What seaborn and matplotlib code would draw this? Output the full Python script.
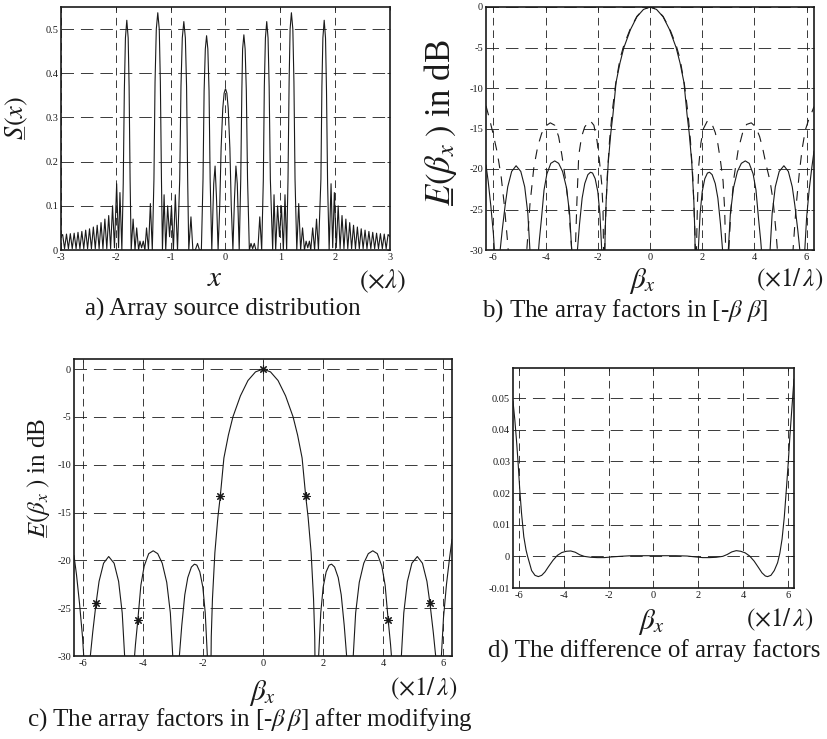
import matplotlib
matplotlib.use("Agg")
import matplotlib.pyplot as plt
import seaborn as sns

# ==========================================
# 1. DATA
# ==========================================
# a) array source distribution S(x), x in units of lambda
# one line per feature: tail ripples, main peaks, small lobes between them
src_x = [
    -3.000, -2.970, -2.935, -2.900, -2.865, -2.830, -2.795, -2.760, -2.725, -2.690,
    -2.655, -2.620, -2.585, -2.550, -2.515, -2.480, -2.445, -2.410, -2.375, -2.340,
    -2.305, -2.270, -2.235, -2.200, -2.165, -2.130, -2.095, -2.060, -2.025, -1.985,
    -1.950, -1.925, -1.890,
    -1.865, -1.845, -1.825, -1.800, -1.775, -1.758, -1.740,
    -1.720, -1.685, -1.650, -1.620, -1.585, -1.560, -1.530, -1.500, -1.470, -1.440, -1.405, -1.370, -1.335,
    -1.305, -1.285, -1.262, -1.235, -1.208, -1.188, -1.168,
    -1.150, -1.120, -1.090, -1.055, -1.020, -0.985, -0.950, -0.915, -0.875,
    -0.835, -0.812, -0.788, -0.760, -0.732, -0.710, -0.690,
    -0.670, -0.630, -0.595, -0.550, -0.510, -0.475, -0.440,
    -0.410, -0.390, -0.368, -0.345, -0.322, -0.300, -0.280,
    -0.250, -0.215, -0.190, -0.165, -0.135,
    -0.105, -0.080, -0.050, -0.025, 0.000, 0.025, 0.050, 0.080, 0.105,
    0.135, 0.165, 0.190, 0.215, 0.250,
    0.278, 0.298, 0.312, 0.335, 0.358, 0.380, 0.402,
    0.435, 0.465, 0.495, 0.525, 0.555, 0.590, 0.625, 0.660,
    0.690, 0.708, 0.728, 0.752, 0.776, 0.796, 0.818,
    0.860, 0.885, 0.915, 0.950, 0.985, 1.020, 1.055, 1.085, 1.115,
    1.140, 1.160, 1.178, 1.202, 1.228, 1.248, 1.268,
    1.300, 1.335, 1.370, 1.405, 1.440, 1.470, 1.500, 1.530, 1.555, 1.590, 1.625, 1.660, 1.695,
    1.740, 1.758, 1.776, 1.800, 1.824, 1.842, 1.862,
    1.890, 1.925, 1.955, 1.985, 2.020, 2.055,
    2.090, 2.125, 2.160, 2.195, 2.230, 2.265, 2.300, 2.335, 2.370, 2.405,
    2.440, 2.475, 2.510, 2.545, 2.580, 2.615, 2.650, 2.685, 2.720, 2.755,
    2.790, 2.825, 2.860, 2.895, 2.930, 2.965, 3.000,
]
src_s = [
    0.030, 0.035, 0.003, 0.036, 0.003, 0.037, 0.003, 0.038, 0.003, 0.040,
    0.003, 0.042, 0.003, 0.045, 0.003, 0.048, 0.003, 0.052, 0.003, 0.056,
    0.003, 0.062, 0.003, 0.070, 0.003, 0.078, 0.003, 0.100, 0.005, 0.150,
    0.005, 0.130, 0.000,
    0.150, 0.360, 0.480, 0.520, 0.480, 0.370, 0.160,
    0.000, 0.070, 0.000, 0.050, 0.000, 0.020, 0.005, 0.020, 0.000, 0.050, 0.000, 0.105, 0.000,
    0.160, 0.380, 0.500, 0.537, 0.500, 0.380, 0.160,
    0.000, 0.125, 0.000, 0.100, 0.030, 0.100, 0.000, 0.125, 0.000,
    0.160, 0.370, 0.480, 0.517, 0.480, 0.370, 0.160,
    0.000, 0.075, 0.000, 0.000, 0.015, 0.000, 0.000,
    0.160, 0.360, 0.455, 0.485, 0.455, 0.360, 0.160,
    0.000, 0.150, 0.190, 0.120, 0.000,
    0.100, 0.230, 0.320, 0.355, 0.365, 0.355, 0.320, 0.230, 0.100,
    0.000, 0.120, 0.190, 0.150, 0.000,
    0.160, 0.360, 0.455, 0.487, 0.455, 0.360, 0.160,
    0.000, 0.015, 0.003, 0.015, 0.000, 0.000, 0.075, 0.000,
    0.160, 0.370, 0.480, 0.517, 0.480, 0.370, 0.160,
    0.000, 0.125, 0.000, 0.100, 0.030, 0.100, 0.000, 0.125, 0.000,
    0.160, 0.380, 0.500, 0.537, 0.500, 0.380, 0.160,
    0.000, 0.105, 0.000, 0.050, 0.000, 0.020, 0.005, 0.020, 0.000, 0.050, 0.000, 0.070, 0.000,
    0.160, 0.370, 0.480, 0.520, 0.480, 0.360, 0.150,
    0.000, 0.150, 0.005, 0.130, 0.005, 0.100,
    0.003, 0.078, 0.003, 0.070, 0.003, 0.062, 0.003, 0.056, 0.003, 0.052,
    0.003, 0.048, 0.003, 0.045, 0.003, 0.042, 0.003, 0.040, 0.003, 0.038,
    0.003, 0.037, 0.003, 0.036, 0.003, 0.035, 0.030,
]

# modified array factor in dB (solid line in b, line in c)
mod_bx = [
    -6.283, -6.200, -6.100, -6.000, -5.960, -5.900, -5.800, -5.740, -5.660, -5.550,
    -5.450, -5.300, -5.130, -4.950, -4.800, -4.680, -4.600, -4.550, -4.360, -4.320,
    -4.240, -4.160, -4.060, -3.950, -3.800, -3.650, -3.500, -3.350, -3.200, -3.080,
    -3.000, -2.950, -2.840, -2.780, -2.700, -2.600, -2.500, -2.380, -2.280, -2.200,
    -2.100, -2.000, -1.920, -1.850, -1.800, -1.760, -1.720, -1.680, -1.600, -1.500,
    -1.420, -1.300, -1.150, -1.000, -0.750, -0.500, -0.250, 0.000,
    0.250, 0.500, 0.750, 1.000, 1.150, 1.300, 1.420, 1.500, 1.600, 1.680,
    1.720, 1.760, 1.800, 1.850, 1.920, 2.000, 2.100, 2.200, 2.280, 2.380,
    2.500, 2.600, 2.700, 2.780, 2.840, 2.950, 3.000, 3.080, 3.200, 3.350,
    3.500, 3.650, 3.800, 3.950, 4.060, 4.160, 4.240, 4.320, 4.360, 4.550,
    4.600, 4.680, 4.800, 4.950, 5.130, 5.300, 5.450, 5.550, 5.660, 5.740,
    5.800, 5.880, 5.930, 6.000, 6.100, 6.200, 6.283,
]
mod_db = [
    -19.5, -21.5, -24.5, -28.0, -30.0, -40.0, -40.0, -30.0, -27.5, -24.5,
    -22.2, -20.3, -19.6, -20.3, -22.2, -25.5, -30.0, -40.0, -40.0, -32.0,
    -28.8, -26.2, -22.6, -20.6, -19.3, -19.0, -19.3, -20.3, -22.3, -25.5,
    -30.0, -40.0, -40.0, -30.0, -26.8, -23.6, -21.8, -20.7, -20.4, -20.5,
    -21.2, -22.8, -25.5, -30.0, -40.0, -40.0, -28.0, -24.0, -19.2, -15.5,
    -13.3, -9.3, -6.9, -5.0, -2.8, -1.2, -0.3, 0.0,
    -0.3, -1.2, -2.8, -5.0, -6.9, -9.3, -13.3, -15.5, -19.2, -24.0,
    -28.0, -40.0, -40.0, -30.0, -25.5, -22.8, -21.2, -20.5, -20.4, -20.7,
    -21.8, -23.6, -26.8, -30.0, -40.0, -40.0, -30.0, -25.5, -22.3, -20.3,
    -19.3, -19.0, -19.3, -20.6, -22.6, -26.2, -28.8, -32.0, -40.0, -40.0,
    -30.0, -25.5, -22.2, -20.3, -19.6, -20.3, -22.2, -24.5, -27.5, -30.0,
    -40.0, -40.0, -30.0, -26.0, -22.5, -19.8, -17.8,
]

# original array factor in dB (dashed line in b)
orig_bx = [
    -6.283, -6.150, -6.000, -5.850, -5.700, -5.580, -5.470, -5.420, -5.380, -4.780,
    -4.720, -4.600, -4.450, -4.300, -4.150, -4.000, -3.820, -3.650, -3.500, -3.380,
    -3.250, -3.120, -3.030, -2.980, -2.950, -2.900, -2.860, -2.800, -2.730, -2.620,
    -2.500, -2.300, -2.150, -2.030, -1.930, -1.850, -1.800, -1.780, -1.765, -1.755,
    -1.740, -1.700, -1.640, -1.550, -1.450, -1.320, -1.150, -1.000, -0.750, -0.500,
    -0.250, 0.000,
    0.250, 0.500, 0.750, 1.000, 1.150, 1.320, 1.450, 1.550, 1.640, 1.700,
    1.740, 1.755, 1.765, 1.780, 1.820, 1.870, 1.950, 2.050, 2.210, 2.380,
    2.500, 2.600, 2.700, 2.800, 2.860, 2.900, 2.930, 2.980, 3.020, 3.100,
    3.220, 3.380, 3.550, 3.700, 3.880, 4.050, 4.200, 4.320, 4.450, 4.600,
    4.720, 4.820, 4.880, 4.930, 5.400, 5.480, 5.600, 5.720, 5.830, 5.950,
    6.070, 6.200, 6.283,
]
orig_db = [
    -12.2, -13.8, -15.8, -18.0, -21.0, -24.5, -28.5, -30.5, -40.0, -40.0,
    -30.0, -24.4, -19.8, -17.2, -15.6, -14.7, -14.3, -14.6, -16.0, -18.2,
    -21.0, -24.5, -28.5, -31.0, -40.0, -40.0, -30.0, -24.0, -18.3, -16.0,
    -14.8, -14.0, -14.6, -16.5, -19.2, -21.8, -25.0, -30.0, -40.0, -40.0,
    -30.0, -26.0, -21.0, -16.5, -13.0, -9.6, -6.4, -4.7, -2.65, -1.15,
    -0.28, 0.0,
    -0.28, -1.15, -2.65, -4.7, -6.4, -9.6, -13.0, -16.5, -21.0, -26.0,
    -30.0, -40.0, -40.0, -30.0, -24.0, -19.5, -16.8, -15.0, -14.0, -14.5,
    -15.5, -16.9, -19.0, -21.5, -25.0, -30.0, -40.0, -40.0, -30.0, -25.0,
    -21.0, -17.6, -15.5, -14.5, -14.3, -14.8, -16.0, -17.5, -19.5, -21.5,
    -24.0, -27.5, -30.0, -40.0, -40.0, -30.0, -24.5, -20.5, -17.5, -15.2,
    -14.0, -13.0, -12.3,
]

# marked sample points in c)
star_bx = [-5.55, -4.16, -1.42, 0.0, 1.42, 4.16, 5.55]
star_db = [-24.5, -26.2, -13.3, 0.0, -13.3, -26.2, -24.5]

# d) difference of the two array factors
diff_bx = [
    -6.283, -6.200, -6.120, -6.050, -5.980, -5.900, -5.800, -5.700, -5.630, -5.550,
    -5.450, -5.300, -5.150, -5.000, -4.850, -4.700, -4.500, -4.300, -4.100, -3.900,
    -3.700, -3.500, -3.300, -3.100, -2.800, -2.500, -2.200, -1.900, -1.500, -1.000,
    -0.500, 0.000,
    0.500, 1.000, 1.500, 1.900, 2.200, 2.500, 2.800, 3.100, 3.300, 3.500,
    3.700, 3.900, 4.100, 4.300, 4.500, 4.700, 4.850, 5.000, 5.100, 5.250,
    5.400, 5.550, 5.650, 5.750, 5.850, 5.950, 6.030, 6.100, 6.180, 6.283,
]
diff_val = [
    0.0490, 0.0430, 0.0360, 0.0290, 0.0210, 0.0135, 0.0062, 0.0020, 0.0000, -0.0020,
    -0.0045, -0.0060, -0.0064, -0.0060, -0.0049, -0.0033, -0.0013, 0.0003, 0.0012, 0.0016,
    0.0017, 0.0013, 0.0005, 0.0000, -0.0003, -0.0004, -0.0004, -0.0002, 0.0000, 0.0002,
    0.0002, 0.0002,
    0.0002, 0.0002, 0.0001, -0.0002, -0.0004, -0.0004, -0.0003, 0.0000, 0.0006, 0.0014,
    0.0018, 0.0016, 0.0011, 0.0001, -0.0015, -0.0036, -0.0052, -0.0062, -0.0064, -0.0060,
    -0.0045, -0.0020, 0.0010, 0.0055, 0.0125, 0.0220, 0.0300, 0.0380, 0.0460, 0.0560,
]

# tick values / labels
src_xticks = [-3, -2, -1, 0, 1, 2, 3]
src_yticks = [0, 0.1, 0.2, 0.3, 0.4, 0.5]
src_ylabels = ["0", "0.1", "0.2", "0.3", "0.4", "0.5"]
beta_ticks = [-6, -4, -2, 0, 2, 4, 6]
db_ticks = [-30, -25, -20, -15, -10, -5, 0]
diff_yticks = [-0.01, 0, 0.01, 0.02, 0.03, 0.04, 0.05]
diff_ylabels = ["-0.01", "0", "0.01", "0.02", "0.03", "0.04", "0.05"]

# ==========================================
# 2. STYLE
# ==========================================
sns.set_theme(style="white")
plt.rcParams["font.family"] = ["Liberation Serif", "DejaVu Serif"]
plt.rcParams["mathtext.fontset"] = "stix"
plt.rcParams["axes.unicode_minus"] = False
plt.rcParams["lines.scale_dashes"] = False

W, H = 828, 739
fig = plt.figure(figsize=(W / 100, H / 100), dpi=100)
fig.patch.set_facecolor("white")


def box(x0, y0, x1, y1):
    # axes from pixel corners of the reference
    return fig.add_axes([x0 / W, 1 - y1 / H, (x1 - x0) / W, (y1 - y0) / H])


def put(px, py, s, size, **kw):
    fig.text(px / W, 1 - py / H, s, ha="center", va="center", fontsize=size, color="k", **kw)


def dress(ax, xlim, ylim, xticks, yticks, ylabels=None):
    ax.set_xlim(xlim)
    ax.set_ylim(ylim)
    ax.set_xticks(xticks)
    ax.set_xticklabels([str(t) for t in xticks])
    ax.set_yticks(yticks)
    ax.set_yticklabels(ylabels if ylabels else [str(t) for t in yticks])
    ax.grid(False)
    ax.grid(axis="x", color="k", linewidth=0.6, linestyle=(0, (5.5, 3.5)))
    ax.grid(axis="y", color="k", linewidth=0.6, linestyle=(0, (9, 5)))
    ax.set_axisbelow(True)
    ax.tick_params(direction="in", length=2.5, width=0.6, top=True, right=True,
                   labelsize=7.5, pad=2, colors="k")
    for sp in ax.spines.values():
        sp.set_linewidth(1.2)
        sp.set_color("k")
    ax.set_xlabel("")
    ax.set_ylabel("")


line_kw = dict(color="k", linewidth=0.8, estimator=None, errorbar=None, sort=False)

# ==========================================
# 3. PANELS
# ==========================================
# a)
ax_a = box(61, 7, 390, 250)
sns.lineplot(x=src_x, y=src_s, ax=ax_a, **line_kw)
dress(ax_a, (-3, 3), (0, 0.55), src_xticks, src_yticks, src_ylabels)

# b)
ax_b = box(486, 7, 814, 250)
sns.lineplot(x=orig_bx, y=orig_db, ax=ax_b, linestyle=(0, (7, 6)), **line_kw)
sns.lineplot(x=mod_bx, y=mod_db, ax=ax_b, **line_kw)
dress(ax_b, (-6.283, 6.283), (-30, 0), beta_ticks, db_ticks)

# c)
ax_c = box(74, 359, 452, 656)
sns.lineplot(x=mod_bx, y=mod_db, ax=ax_c, **line_kw)
sns.scatterplot(x=star_bx, y=star_db, ax=ax_c, marker=(8, 2, 0), color="k",
                s=30, linewidth=0.8, zorder=5)
dress(ax_c, (-6.283, 6.283), (-30, 1.05), beta_ticks, db_ticks)

# d)
ax_d = box(513, 368, 794, 588)
sns.lineplot(x=diff_bx, y=diff_val, ax=ax_d, **line_kw)
dress(ax_d, (-6.283, 6.283), (-0.01, 0.0595), beta_ticks, diff_yticks, diff_ylabels)

# ==========================================
# 4. LABELS AND CAPTIONS
# ==========================================
e_label = r"$E\hspace{-0.85}\_\hspace{0.15}(\beta_x\;)$ in dB"

put(17, 118, r"$S\hspace{-0.7}\_\hspace{0.05}(x)$", 19, rotation=90)
put(215, 279, r"$x$", 21)
put(383, 281, r"$(\times\lambda)$", 19)
put(223, 309, "a) Array source distribution", 18)

put(441, 123, e_label, 25, rotation=90)
put(643, 281, r"$\beta_x$", 21)
put(790, 280, r"$(\times1/\,\lambda)$", 18)
put(625, 311, r"b) The array factors in [-$\beta$ $\beta$]", 18)

put(38, 478, e_label, 18, rotation=90)
put(263, 693, r"$\beta_x$", 21)
put(424, 689, r"$(\times1/\,\lambda)$", 18)
put(250, 720, r"c) The array factors in [-$\beta\,\beta$] after modifying", 18)

put(652, 622, r"$\beta_x$", 21)
put(780, 620, r"$(\times1/\,\lambda)$", 18)
put(654, 651, "d) The difference of array factors", 18)

plt.savefig("out.png", dpi=100, facecolor="white")
